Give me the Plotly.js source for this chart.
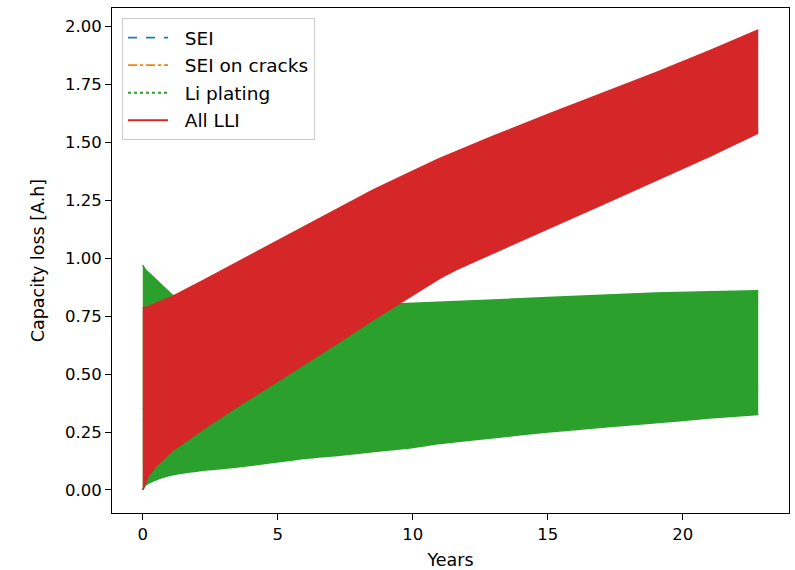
<!DOCTYPE html>
<html>
<head>
<meta charset="utf-8">
<script src="https://cdn.plot.ly/plotly-3.0.1.min.js"></script>
<style>html,body{margin:0;padding:0;background:#fff;}#chart{width:795px;height:570px;}</style>
</head>
<body>
<div id="chart"></div>
<script>
// Envelope of the (rapidly oscillating) curves
const lliYears  = [0, 0.2, 0.47, 1.1, 2.33, 3.57, 4.8, 6.05, 7.3, 8.5, 9.8, 10.4, 11.0, 11.6, 12.3, 13.0, 15.0, 17.0, 19.0, 21.0, 22.8];
const lliLower  = [0, 0.06, 0.10, 0.17, 0.27, 0.365, 0.455, 0.547, 0.64, 0.732, 0.828, 0.872, 0.913, 0.95, 0.987, 1.023, 1.127, 1.23, 1.335, 1.44, 1.54];
const lliUpper  = [0.786, 0.79, 0.805, 0.835, 0.91, 0.987, 1.065, 1.143, 1.22, 1.292, 1.365, 1.398, 1.43, 1.46, 1.494, 1.527, 1.62, 1.71, 1.80, 1.895, 1.985];

const liYears   = [0, 0.1, 0.47, 1.1, 2.33, 3.57, 4.8, 6.05, 7.3, 8.5, 9.8, 11.0, 13.0, 15.0, 17.0, 19.0, 21.0, 22.8];
const liLower   = [0, 0.02, 0.043, 0.065, 0.086, 0.10, 0.118, 0.137, 0.15, 0.165, 0.18, 0.20, 0.225, 0.25, 0.27, 0.29, 0.31, 0.325];
const liUpper   = [0.97, 0.95, 0.91, 0.84, 0.82, 0.81, 0.80, 0.80, 0.80, 0.80, 0.805, 0.81, 0.82, 0.83, 0.84, 0.85, 0.855, 0.86];

const seiYears  = [0, 2, 5, 8, 10.5, 13, 15.5, 19, 22.8];
const seiVals   = [0.35, 0.40, 0.45, 0.48, 0.50, 0.57, 0.64, 0.70, 0.75];
const crkVals   = [0.30, 0.30, 0.32, 0.34, 0.36, 0.38, 0.40, 0.42, 0.44];

const seriesNames = ['SEI', 'SEI on cracks', 'Li plating', 'All LLI'];
const xTicks = [0, 5, 10, 15, 20];
const yTicks = [0, 0.25, 0.5, 0.75, 1.0, 1.25, 1.5, 1.75, 2.0];

const FONT = 'DejaVu Sans, sans-serif';
const BLUE = '#1f77b4', ORANGE = '#ff7f0e', GREEN = '#2ca02c', RED = '#d62728';
const PAD = '\u00a0\u00a0';

const traces = [
  {x: seiYears, y: seiVals, name: PAD + seriesNames[0], mode: 'lines', legendgroup: 'g1',
   line: {color: BLUE, dash: 'dash', width: 1.8}},
  {x: seiYears, y: crkVals, name: PAD + seriesNames[1], mode: 'lines', legendgroup: 'g2',
   line: {color: ORANGE, dash: 'dashdot', width: 1.8}},
  {x: liYears, y: liLower, mode: 'lines', showlegend: false, legendgroup: 'g3',
   line: {color: GREEN, width: 1.5, shape: 'spline', smoothing: 0.6}, hoverinfo: 'skip'},
  {x: liYears, y: liUpper, mode: 'lines', showlegend: false, legendgroup: 'g3',
   fill: 'tonexty', fillcolor: GREEN, line: {color: GREEN, width: 1.5}, hoverinfo: 'skip'},
  {x: lliYears, y: lliLower, mode: 'lines', showlegend: false, legendgroup: 'g4',
   line: {color: RED, width: 1.5}, hoverinfo: 'skip'},
  {x: lliYears, y: lliUpper, mode: 'lines', showlegend: false, legendgroup: 'g4',
   fill: 'tonexty', fillcolor: RED, line: {color: RED, width: 1.5}, hoverinfo: 'skip'},
  {x: [null], y: [null], name: PAD + seriesNames[2], mode: 'lines', legendgroup: 'g3',
   line: {color: GREEN, dash: 'dot', width: 1.8}},
  {x: [null], y: [null], name: PAD + seriesNames[3], mode: 'lines', legendgroup: 'g4',
   line: {color: RED, width: 2}}
];

const axisCommon = {
  showline: true, mirror: true, linecolor: '#000', linewidth: 1,
  ticks: 'outside', ticklen: 6, tickwidth: 1, tickcolor: '#000',
  showgrid: false, zeroline: false,
  tickfont: {family: FONT, size: 16.5, color: '#000'}
};

const layout = {
  width: 795, height: 570,
  margin: {l: 112, r: 6, t: 8, b: 57, pad: 0},
  paper_bgcolor: '#fff', plot_bgcolor: '#fff',
  font: {family: FONT, size: 16.5, color: '#000'},
  xaxis: Object.assign({}, axisCommon, {
    range: [-1.14, 23.94], tickvals: xTicks, ticktext: xTicks.map(String),
    title: {text: 'Years', font: {family: FONT, size: 17.5}, standoff: 15}
  }),
  yaxis: Object.assign({}, axisCommon, {
    range: [-0.0995, 2.0795], tickvals: yTicks, ticktext: yTicks.map(v => v.toFixed(2)),
    title: {text: 'Capacity loss [A.h]', font: {family: FONT, size: 17.5}, standoff: 15}
  }),
  showlegend: true,
  legend: {
    x: 0.0148, y: 0.98, xanchor: 'left', yanchor: 'top',
    bgcolor: 'rgba(255,255,255,0.8)', bordercolor: '#cccccc', borderwidth: 1,
    font: {family: FONT, size: 18.5, color: '#000'},
    itemwidth: 40,
    traceorder: 'grouped', tracegroupgap: 0.5
  }
};

Plotly.newPlot('chart', traces, layout, {displayModeBar: false, staticPlot: true});
</script>
</body>
</html>
